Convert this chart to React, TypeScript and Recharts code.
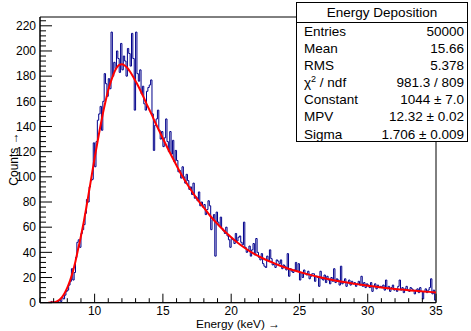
import { ComposedChart, Line, XAxis, YAxis, ReferenceArea } from 'recharts';

// histogram: bin width 0.1 keV starting at 6.0 keV
const HIST_START = 6.0;
const HIST_BIN = 0.1;
const HIST_COUNTS: number[] = [
  0, 0, 0, 0, 0, 0, 0, 0, 1, 0,
  0, 1, 0, 1, 2, 1, 4, 3, 6, 9,
  10, 14, 17, 27, 18, 24, 36, 48, 50, 44,
  55, 58, 62, 71, 82, 80, 92, 97, 98, 127,
  108, 128, 145, 150, 156, 137, 160, 182, 174, 164,
  178, 170, 215, 180, 191, 186, 200, 194, 183, 206,
  185, 196, 192, 180, 202, 198, 188, 214, 194, 153,
  215, 182, 176, 185, 166, 172, 158, 153, 168, 171,
  173, 177, 150, 121, 141, 146, 153, 137, 130, 136,
  124, 131, 146, 128, 120, 136, 118, 129, 112, 121,
  113, 104, 105, 99, 108, 100, 95, 102, 97, 90,
  92, 86, 95, 83, 84, 81, 88, 77, 80, 76,
  78, 70, 74, 81, 77, 58, 66, 70, 37, 72,
  64, 61, 68, 59, 57, 55, 60, 53, 50, 44,
  51, 50, 47, 55, 49, 52, 53, 48, 46, 64,
  44, 40, 42, 45, 37, 42, 47, 38, 51, 40,
  36, 34, 39, 31, 29, 28, 37, 33, 42, 35,
  30, 31, 28, 34, 33, 31, 34, 27, 30, 29,
  26, 39, 21, 27, 25, 24, 26, 32, 25, 31,
  18, 24, 20, 26, 23, 22, 25, 19, 21, 23,
  23, 17, 21, 20, 13, 25, 19, 18, 22, 16,
  21, 18, 15, 20, 17, 27, 16, 19, 18, 14,
  29, 15, 17, 19, 13, 16, 18, 14, 17, 15,
  16, 13, 15, 17, 14, 21, 13, 16, 12, 15,
  14, 12, 16, 9, 13, 15, 11, 14, 12, 13,
  12, 14, 10, 18, 11, 13, 9, 12, 14, 10,
  11, 9, 13, 18, 10, 12, 8, 11, 13, 10,
  9, 12, 11, 10, 7, 10, 11, 8, 12, 9,
  3, 9, 11, 8, 10, 12, 19, 7, 10, 2,
];

// landau fit curve
const FIT_X: number[] = [
  6.6, 7.0, 7.2, 7.4, 7.6, 7.8, 8.0, 8.2, 8.4, 8.6, 8.8, 9.0, 9.2, 9.4, 9.6, 9.8,
  10.0, 10.2, 10.4, 10.6, 10.8, 11.0, 11.2, 11.4, 11.6, 11.8, 12.0, 12.2, 12.4,
  12.6, 12.8, 13.0, 13.2, 13.4, 13.6, 13.8, 14.0, 14.2, 14.4, 14.6, 14.8, 15.0,
  15.5, 16.0, 16.5, 17.0, 17.5, 18.0, 18.5, 19.0, 19.5, 20.0, 20.5, 21.0, 21.5,
  22.0, 22.5, 23.0, 23.5, 24.0, 24.5, 25.0, 25.5, 26.0, 26.5, 27.0, 27.5, 28.0,
  28.5, 29.0, 29.5, 30.0, 30.5, 31.0, 31.5, 32.0, 32.5, 33.0, 33.5, 34.0, 34.5, 35.0,
];
const FIT_Y: number[] = [
  0.0, 0.3, 0.9, 2.2, 4.3, 7.6, 12, 17.5, 24.5, 33, 43, 53, 64, 76, 89, 102,
  115, 127, 139, 150, 160, 169, 176, 182, 186.5, 189, 189.5, 188.5, 186.5,
  183.5, 180, 176, 172, 167.5, 163, 158, 153.5, 149, 144, 139.5, 135, 130.5,
  119.5, 109, 99, 90.5, 82.5, 75.5, 68.5, 62.5, 57, 52, 47.5, 43.5, 40,
  37, 34.3, 32, 29.8, 27.8, 26, 24.4, 22.9, 21.5, 20.2, 19, 17.9, 16.9,
  16, 15.1, 14.3, 13.5, 12.8, 12.1, 11.5, 10.9, 10.4, 9.9, 9.4, 9.0, 8.6, 8.2,
];

const X_TICKS: number[] = [
  6, 7, 8, 9, 10, 11, 12, 13, 14, 15, 16, 17, 18, 19, 20,
  21, 22, 23, 24, 25, 26, 27, 28, 29, 30, 31, 32, 33, 34, 35,
];
const Y_TICKS: number[] = [
  0, 4, 8, 12, 16, 20, 24, 28, 32, 36, 40, 44, 48, 52, 56, 60, 64, 68, 72, 76,
  80, 84, 88, 92, 96, 100, 104, 108, 112, 116, 120, 124, 128, 132, 136, 140,
  144, 148, 152, 156, 160, 164, 168, 172, 176, 180, 184, 188, 192, 196, 200,
  204, 208, 212, 216, 220, 224,
];

const STATS: [string, string][] = [
  ['Entries', '50000'],
  ['Mean', '15.66'],
  ['RMS', '5.378'],
  ['χ2 / ndf', '981.3 / 809'],
  ['Constant', '1044 ± 7.0'],
  ['MPV', '12.32 ± 0.02'],
  ['Sigma', '1.706 ± 0.009'],
];

const histData = [
  ...HIST_COUNTS.map((c, i) => ({ x: +(HIST_START + i * HIST_BIN).toFixed(2), y: c })),
  { x: 35, y: HIST_COUNTS[HIST_COUNTS.length - 1] },
];
const fitData = FIT_X.map((x, i) => ({ x, y: FIT_Y[i] }));

const FONT = "'Liberation Sans', Arial, Helvetica, sans-serif";

const XTick = (props: any) => {
  const { x, y, payload } = props;
  const v = payload.value;
  const major = v % 5 === 0;
  return (
    <g>
      <line x1={x} x2={x} y1={y} y2={y - (major ? 9 : 4.5)} stroke="#000" />
      {major && (
        <text x={x} y={y + 11.8} textAnchor="middle" fontSize={12} fontFamily={FONT} fill="#000">
          {v}
        </text>
      )}
    </g>
  );
};

const YTick = (props: any) => {
  const { x, y, payload } = props;
  const v = payload.value;
  const major = v % 20 === 0;
  return (
    <g>
      <line x1={x} x2={x + (major ? 12 : 6)} y1={y} y2={y} stroke="#000" />
      {major && (
        <text x={x - 4} y={y + 4.3} textAnchor="end" fontSize={12} fontFamily={FONT} fill="#000">
          {v}
        </text>
      )}
    </g>
  );
};

export default function App() {
  return (
    <div style={{ position: 'fixed', left: 0, top: 0, width: 471, height: 331, background: '#fff' }}>
      <ComposedChart width={471} height={331} margin={{ top: 17, right: 35, bottom: 0, left: 0 }}>
        <XAxis
          dataKey="x"
          type="number"
          domain={[6, 35]}
          ticks={X_TICKS}
          interval={0}
          tickSize={0}
          tickMargin={0}
          height={28.3}
          allowDataOverflow
          axisLine={{ stroke: '#000' }}
          tick={XTick}
          label={{
            content: () => (
              <text x={238} y={327.5} textAnchor="middle" fontSize={11.8} fontFamily={FONT} fill="#000">
                Energy (keV) →
              </text>
            ),
          }}
        />
        <YAxis
          type="number"
          domain={[0, 227]}
          ticks={Y_TICKS}
          interval={0}
          tickSize={0}
          tickMargin={0}
          width={40}
          allowDataOverflow
          axisLine={{ stroke: '#000' }}
          tick={YTick}
          label={{
            content: () => (
              <text
                x={14}
                y={159}
                transform="rotate(-90 14 159)"
                textAnchor="middle"
                dominantBaseline="central"
                fontSize={12}
                fontFamily={FONT}
                fill="#000"
              >
                Counts →
              </text>
            ),
          }}
        />
        <ReferenceArea x1={6} x2={35} y1={0} y2={227} fill="none" stroke="#000" strokeWidth={1} ifOverflow="visible" />
        <Line
          data={histData}
          dataKey="y"
          type="stepAfter"
          stroke="#00008b"
          strokeWidth={1}
          dot={false}
          isAnimationActive={false}
        />
        <Line
          data={fitData}
          dataKey="y"
          type="monotone"
          stroke="#ff0000"
          strokeWidth={2}
          dot={false}
          isAnimationActive={false}
        />
      </ComposedChart>
      <div
        style={{
          position: 'absolute',
          left: 296,
          top: 2,
          width: 172,
          height: 140,
          boxSizing: 'border-box',
          border: '1px solid #000',
          background: '#fff',
          fontFamily: FONT,
          fontSize: 13.5,
          color: '#000',
        }}
      >
        <div style={{ height: 19, lineHeight: '19px', textAlign: 'center', borderBottom: '1px solid #000' }}>
          Energy Deposition
        </div>
        {STATS.map(([k, v]) => (
          <div
            key={k}
            style={{ display: 'flex', justifyContent: 'space-between', height: 17.1, lineHeight: '17.1px', padding: '0 3px 0 7px' }}
          >
            <span>
              {k === 'χ2 / ndf' ? (
                <>
                  χ<sup style={{ fontSize: 9, lineHeight: 0 }}>2</sup> / ndf
                </>
              ) : (
                k
              )}
            </span>
            <span>{v}</span>
          </div>
        ))}
      </div>
    </div>
  );
}
